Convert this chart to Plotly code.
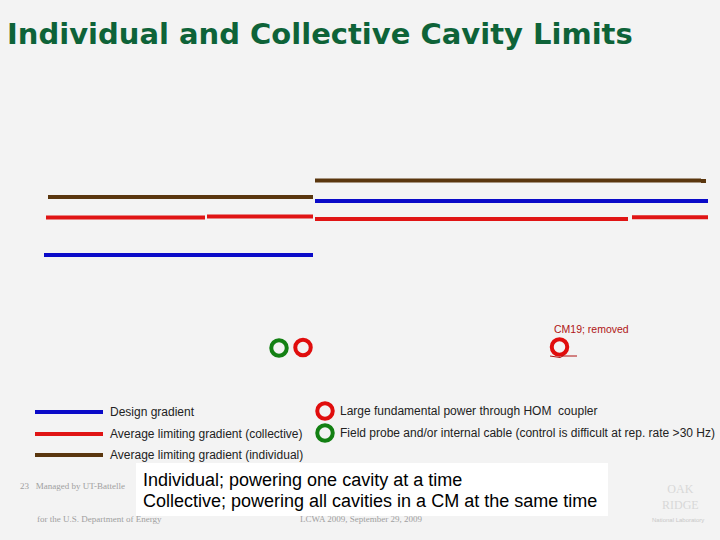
import plotly.graph_objects as go

# ---- data (slide coordinate units: x 0..720, y 0..540 downward) ----
series_names = ["Design gradient", "Average limiting gradient (collective)", "Average limiting gradient (individual)"]
series_colors = ["#0a0ac8", "#e01414", "#5a360e"]

# segments: (x_start, x_end, level)
design_segments = [(44, 313, 255), (315, 708, 201)]
collective_segments = [(46, 205, 217.5), (207, 313, 216.5), (315, 628, 219), (632, 708, 217.3)]
individual_segments = [(48, 313, 197), (315, 701, 180.5), (701, 706, 181)]

fault_x = [279, 303, 559.5]
fault_y = [348, 347.5, 347]
fault_type = ["field", "hom", "hom"]

legend_marker_labels = ["Large fundamental power through HOM  coupler",
                        "Field probe and/or internal cable (control is difficult at rep. rate >30 Hz)"]
note_lines = ["Individual; powering one cavity at a time",
              "Collective; powering all cavities in a CM at the same time"]

type_colors = {"hom": "#e00d0d", "field": "#138013"}

fig = go.Figure()

def add_segments(segs, color, width=4):
    xs, ys = [], []
    for x0, x1, y in segs:
        xs += [x0, x1, None]
        ys += [y, y, None]
    fig.add_trace(go.Scatter(x=xs, y=ys, mode="lines", line=dict(color=color, width=width),
                             hoverinfo="skip", showlegend=False))

add_segments(individual_segments, series_colors[2])
add_segments(design_segments, series_colors[0])
add_segments(collective_segments, series_colors[1])

for t in ["field", "hom"]:
    fig.add_trace(go.Scatter(
        x=[x for x, k in zip(fault_x, fault_type) if k == t],
        y=[y for y, k in zip(fault_y, fault_type) if k == t],
        mode="markers",
        marker=dict(symbol="circle-open", size=15.5, color=type_colors[t], line=dict(width=4, color=type_colors[t])),
        hoverinfo="skip", showlegend=False))

# small underline near removed cavity
fig.add_trace(go.Scatter(x=[550, 556, 560, 563, 577], y=[356, 356.5, 357.5, 356, 356], mode="lines",
                         line=dict(color="#b01010", width=1), hoverinfo="skip", showlegend=False))

# manual legend lines
legend_y = [412, 434, 455]
for c, y in zip(series_colors, legend_y):
    fig.add_trace(go.Scatter(x=[35, 103], y=[y, y], mode="lines", line=dict(color=c, width=4),
                             hoverinfo="skip", showlegend=False))
legend_marker_y = [411, 433]
for t, y in zip(["hom", "field"], legend_marker_y):
    fig.add_trace(go.Scatter(x=[325], y=[y], mode="markers",
                             marker=dict(symbol="circle-open", size=15.5, color=type_colors[t],
                                         line=dict(width=4, color=type_colors[t])),
                             hoverinfo="skip", showlegend=False))

ann = []
ann.append(dict(x=5, y=34, text="<b>Individual and Collective Cavity Limits</b>", showarrow=False,
                xanchor="left", yanchor="middle", font=dict(family="DejaVu Sans", size=29, color="#0e6338")))
for name, y in zip(series_names, legend_y):
    ann.append(dict(x=108, y=y, text=name, showarrow=False, xanchor="left", yanchor="middle",
                    font=dict(family="Liberation Sans, Arial", size=12, color="#222")))
for name, y in zip(legend_marker_labels, legend_marker_y):
    ann.append(dict(x=338, y=y, text=name, showarrow=False, xanchor="left", yanchor="middle",
                    font=dict(family="Liberation Sans, Arial", size=12, color="#222")))
ann.append(dict(x=552, y=329, text="CM19; removed", showarrow=False, xanchor="left", yanchor="middle",
                font=dict(family="Liberation Sans, Arial", size=10.5, color="#b01515")))
for line, y in zip(note_lines, [480, 501]):
    ann.append(dict(x=141, y=y, text=line, showarrow=False, xanchor="left", yanchor="middle",
                    font=dict(family="Liberation Sans, Arial", size=18, color="#000")))
foot = dict(family="Liberation Serif, Times New Roman", size=9, color="#a0a0a0")
ann.append(dict(x=18, y=486, text="23   Managed by UT-Battelle", showarrow=False, xanchor="left", yanchor="middle", font=foot))
ann.append(dict(x=35, y=519, text="for the U.S. Department of Energy", showarrow=False, xanchor="left", yanchor="middle", font=foot))
ann.append(dict(x=298, y=519, text="LCWA 2009, September 29, 2009", showarrow=False, xanchor="left", yanchor="middle", font=foot))
ann.append(dict(x=680, y=497, text="OAK<br>RIDGE", showarrow=False, xanchor="center", yanchor="middle",
                font=dict(family="Liberation Serif", size=12, color="#d8d8d8")))
ann.append(dict(x=678, y=520, text="National Laboratory", showarrow=False, xanchor="center", yanchor="middle",
                font=dict(family="Liberation Sans", size=6, color="#c8c8c8")))

shapes = [dict(type="rect", xref="x", yref="y", x0=136, x1=608, y0=463, y1=516,
               fillcolor="#ffffff", line=dict(width=0), layer="below")]

fig.update_layout(
    width=720, height=540,
    margin=dict(l=0, r=0, t=0, b=0),
    paper_bgcolor="#f3f3f3", plot_bgcolor="#f3f3f3",
    xaxis=dict(range=[0, 720], visible=False, fixedrange=True),
    yaxis=dict(range=[540, 0], visible=False, fixedrange=True),
    annotations=ann, shapes=shapes, showlegend=False,
)

fig.write_html("out.html", config={"displayModeBar": False},
               post_script="document.body.style.margin='0';document.body.style.overflow='hidden';document.body.style.background='#f3f3f3';")
